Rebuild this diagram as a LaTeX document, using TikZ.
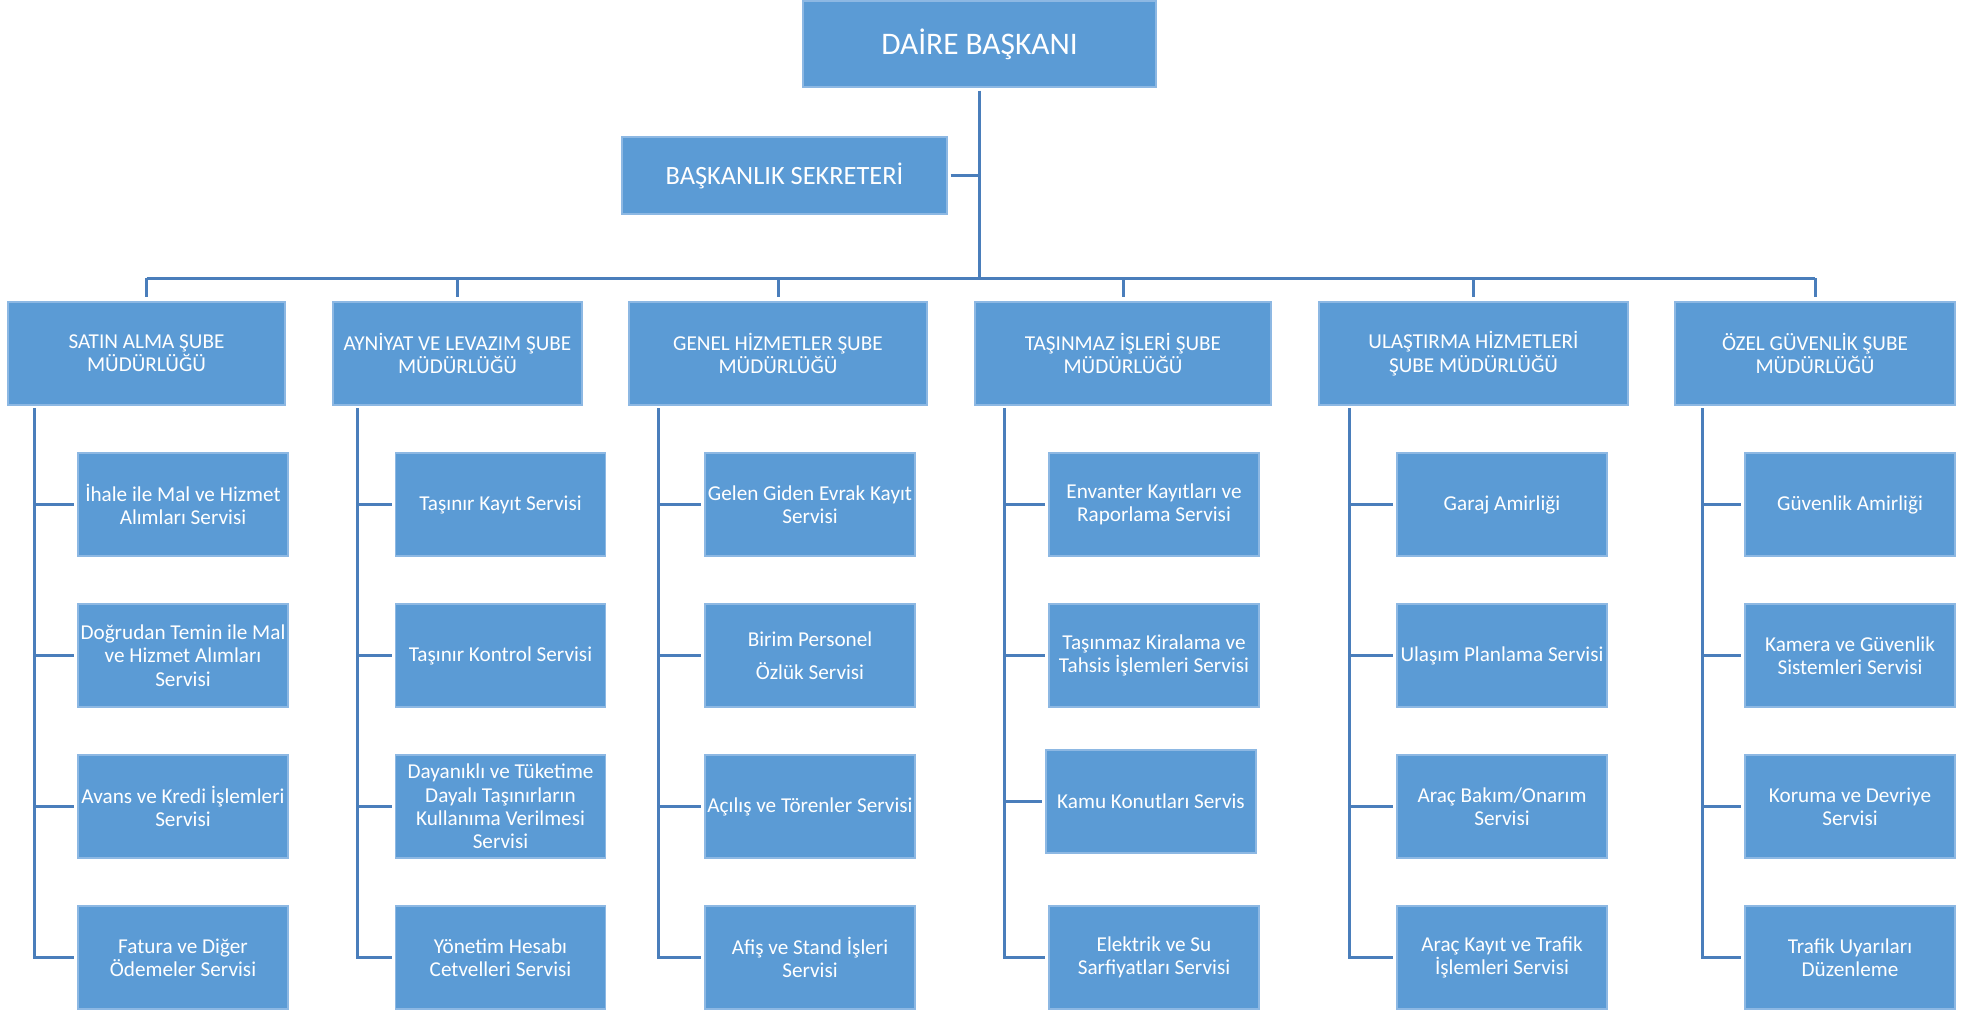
\documentclass[tikz,border=0pt]{standalone}
\usepackage{fontspec}
\setmainfont{Carlito}
\definecolor{boxblue}{HTML}{5B9BD5}
\definecolor{boxedge}{HTML}{8DB8E3}
\definecolor{lineblue}{HTML}{4A7EBB}
\begin{document}
\begin{tikzpicture}[x=0.5pt,y=-0.5pt,
  box/.style={fill=boxblue, draw=boxedge, line width=0.6pt, text=white, align=center, inner sep=0pt,
    font=\fontsize{10.6pt}{11.65pt}\selectfont},
  hdr/.style={box, minimum height=51.5pt},
  kid/.style={box, minimum width=105pt, minimum height=51.5pt},
  conn/.style={draw=lineblue, line width=1.5pt}]
\useasboundingbox (0,0) rectangle (1977,1009);

% top
\node[box, minimum width=176.5pt, minimum height=43pt, font=\fontsize{15.7pt}{18pt}\selectfont] (top) at (979.5,44) {DAİRE BAŞKANI};
\node[box, minimum width=162.5pt, minimum height=38.5pt, font=\fontsize{13.2pt}{15pt}\selectfont] (sek) at (784.5,175.5) {BAŞKANLIK SEKRETERİ};

% headers
\node[hdr, minimum width=138.5pt] (h1) at (146.5,353.5) {SATIN ALMA ŞUBE\\MÜDÜRLÜĞÜ};
\node[hdr, minimum width=124.5pt] (h2) at (457.5,353.5) {AYNİYAT VE LEVAZIM ŞUBE\\MÜDÜRLÜĞÜ};
\node[hdr, minimum width=149pt] (h3) at (778,353.5) {GENEL HİZMETLER ŞUBE\\MÜDÜRLÜĞÜ};
\node[hdr, minimum width=148pt] (h4) at (1123,353.5) {TAŞINMAZ İŞLERİ ŞUBE\\MÜDÜRLÜĞÜ};
\node[hdr, minimum width=154.5pt] (h5) at (1473.5,353.5) {ULAŞTIRMA HİZMETLERİ\\ŞUBE MÜDÜRLÜĞÜ};
\node[hdr, minimum width=140pt] (h6) at (1815,353.5) {ÖZEL GÜVENLİK ŞUBE\\MÜDÜRLÜĞÜ};

% column 1
\node[kid] (c11) at (183,504.5) {İhale ile Mal ve Hizmet\\Alımları Servisi};
\node[kid] (c12) at (183,655.5) {Doğrudan Temin ile Mal\\ve Hizmet Alımları\\Servisi};
\node[kid] (c13) at (183,806.5) {Avans ve Kredi İşlemleri\\Servisi};
\node[kid] (c14) at (183,957.5) {Fatura ve Diğer\\Ödemeler Servisi};
% column 2
\node[kid] (c21) at (500.5,504.5) {Taşınır Kayıt Servisi};
\node[kid] (c22) at (500.5,655.5) {Taşınır Kontrol Servisi};
\node[kid] (c23) at (500.5,806.5) {Dayanıklı ve Tüketime\\Dayalı Taşınırların\\Kullanıma Verilmesi\\Servisi};
\node[kid] (c24) at (500.5,957.5) {Yönetim Hesabı\\Cetvelleri Servisi};
% column 3
\node[kid] (c31) at (810,504.5) {Gelen Giden Evrak Kayıt\\Servisi};
\node[kid, font=\fontsize{10.6pt}{16.5pt}\selectfont] (c32) at (810,655.5) {Birim Personel\\Özlük Servisi};
\node[kid] (c33) at (810,806.5) {Açılış ve Törenler Servisi};
\node[kid] (c34) at (810,957.5) {Afiş ve Stand İşleri\\Servisi};
% column 4
\node[kid] (c41) at (1154,504.5) {Envanter Kayıtları ve\\Raporlama Servisi};
\node[kid] (c42) at (1154,655.5) {Taşınmaz Kiralama ve\\Tahsis İşlemleri Servisi};
\node[kid] (c43) at (1151,801.5) {Kamu Konutları Servis};
\node[kid] (c44) at (1154,957.5) {Elektrik ve Su\\Sarfiyatları Servisi};
% column 5
\node[kid] (c51) at (1502,504.5) {Garaj Amirliği};
\node[kid] (c52) at (1502,655.5) {Ulaşım Planlama Servisi};
\node[kid] (c53) at (1502,806.5) {Araç Bakım/Onarım\\Servisi};
\node[kid] (c54) at (1502,957.5) {Araç Kayıt ve Trafik\\İşlemleri Servisi};
% column 6
\node[kid] (c61) at (1850,504.5) {Güvenlik Amirliği};
\node[kid] (c62) at (1850,655.5) {Kamera ve Güvenlik\\Sistemleri Servisi};
\node[kid] (c63) at (1850,806.5) {Koruma ve Devriye\\Servisi};
\node[kid] (c64) at (1850,957.5) {Trafik Uyarıları\\Düzenleme};

% connectors: top
\coordinate (bus) at (979.5,278);
\coordinate (busL) at (146.5,278);
\coordinate (busR) at (1815,278);
\draw[conn] ([yshift=-1.5pt]top.south) -- (bus);
\draw[conn] ([xshift=1.5pt]sek.east) -- (sek.east -| bus);
\draw[conn] (busL) -- (busR);
\foreach \h in {h1,h2,h3,h4,h5,h6}{
  \draw[conn] (\h.north |- bus) -- ([yshift=2pt]\h.north);
}

% branches
\coordinate (b1) at (34,408);
\coordinate (b2) at (357,408);
\coordinate (b3) at (658,408);
\coordinate (b4) at (1004,408);
\coordinate (b5) at (1349,408);
\coordinate (b6) at (1702,408);
\foreach \i in {1,...,6}{
  \draw[conn] (b\i) |- ([xshift=-1.5pt]c\i4.west);
  \foreach \k in {1,2,3}{
    \draw[conn] (b\i |- c\i\k.west) -- ([xshift=-1.5pt]c\i\k.west);
  }
}
\end{tikzpicture}
\end{document}
